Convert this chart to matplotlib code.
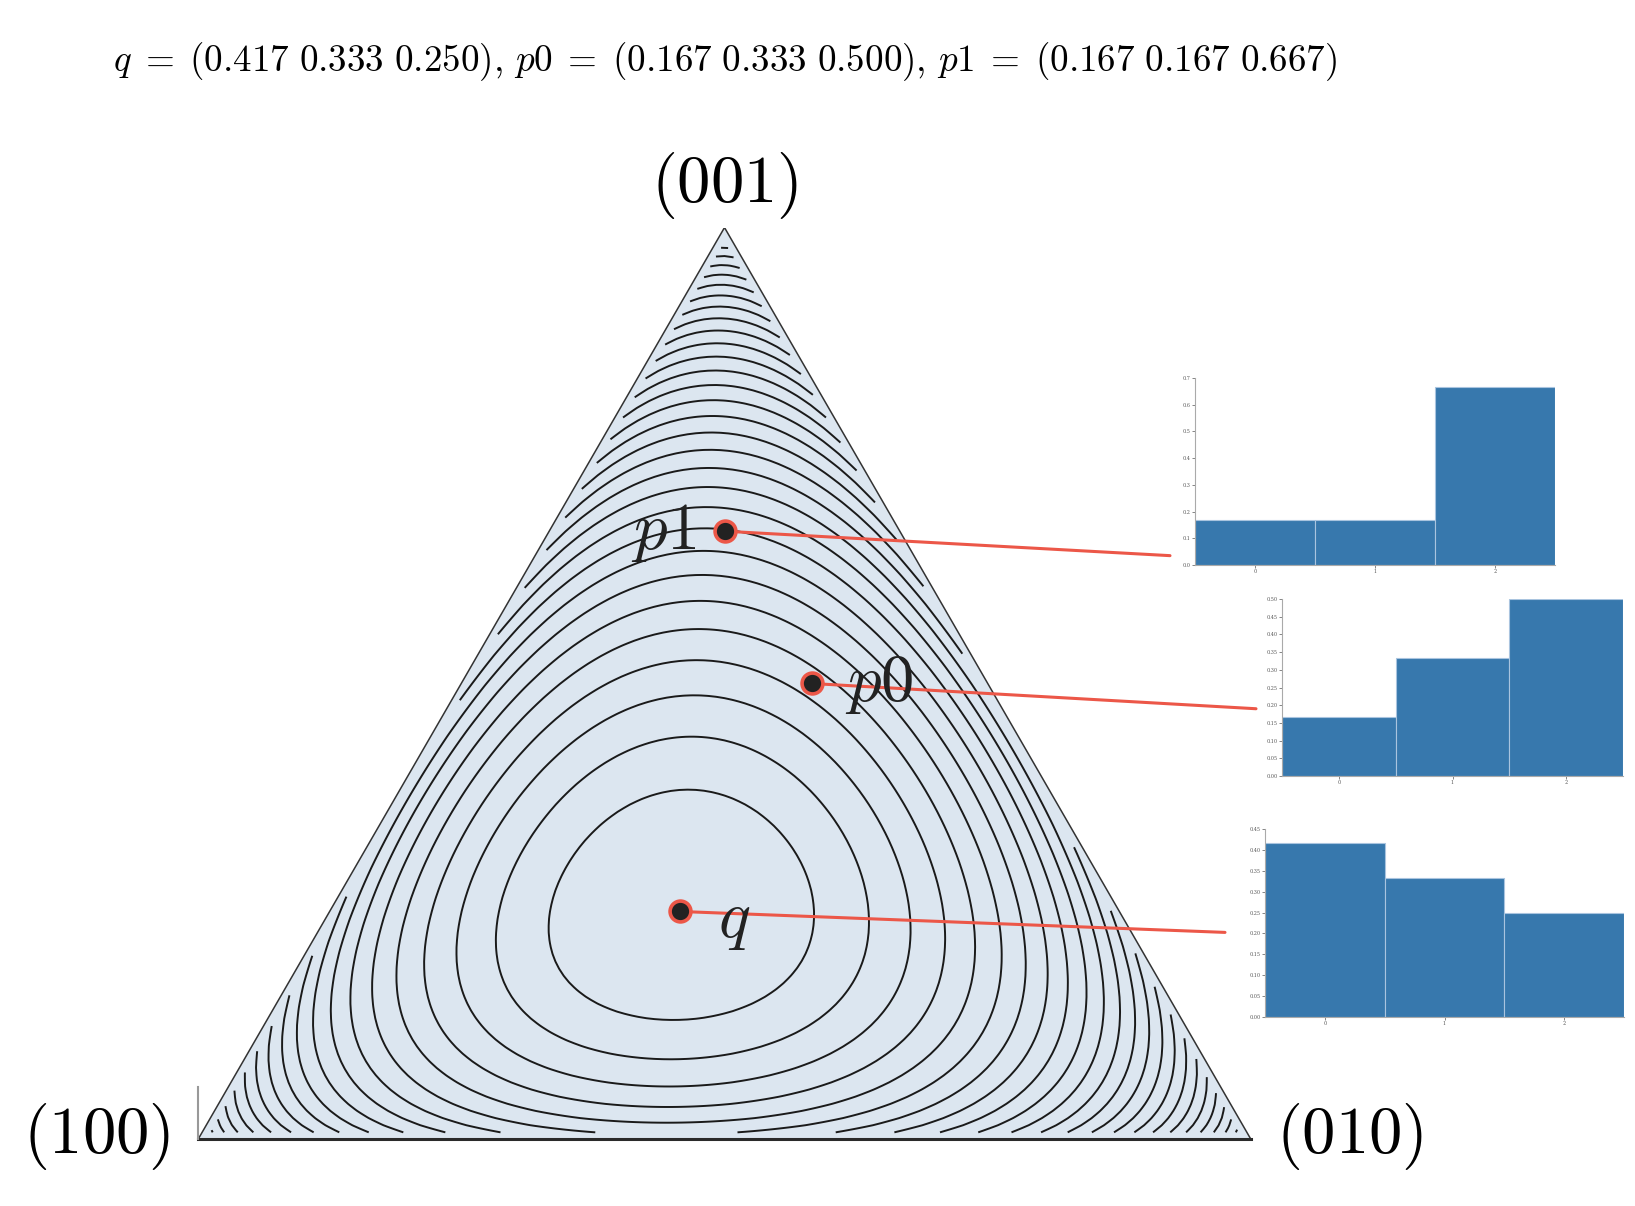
import numpy as np
import matplotlib
matplotlib.use('Agg')
import matplotlib.pyplot as plt
import matplotlib.tri as mtri
from matplotlib.patches import Polygon, ConnectionPatch

plt.rcParams['mathtext.fontset'] = 'cm'
plt.rcParams['font.family'] = ['DejaVu Serif']

# 分布数据
q = np.array([0.417, 0.333, 0.250])
p0 = np.array([0.167, 0.333, 0.500])
p1 = np.array([0.167, 0.167, 0.667])
names = ['q', 'p0', 'p1']
corner_labels = ['(100)', '(010)', '(001)']
bar_x = [0, 1, 2]
n_levels = 32

# 单纯形顶点
corners = np.array([[0, 0], [1, 0], [0.5, np.sqrt(3) / 2]])


def bary_to_xy(p):
    return p @ corners


def xy_to_bary(xy):
    # 求重心坐标
    T = np.array([[corners[0, 0] - corners[2, 0], corners[1, 0] - corners[2, 0]],
                  [corners[0, 1] - corners[2, 1], corners[1, 1] - corners[2, 1]]])
    l12 = np.linalg.solve(T, (xy - corners[2]).T).T
    l3 = 1 - l12.sum(axis = 1)
    return np.column_stack([l12, l3])


def kl(p, q):
    p = np.clip(p, 1e-12, 1)
    return np.sum(p * np.log(p / q), axis = 1)


fig = plt.figure(figsize = (16.35, 12.06), dpi = 100)
W, H = 1635, 1206
ax = fig.add_axes([198 / W, 66 / H, 1053 / W, 913 / H])
ax.set_xlim(0, 1)
ax.set_ylim(0, np.sqrt(3) / 2)
ax.set_aspect('equal')
ax.axis('off')

# 三角形底色
ax.add_patch(Polygon(corners, closed = True, facecolor = '#dce6f0', edgecolor = '#333333', lw = 1.1, zorder = 0))

# KL(p||q) 等高线
tri = mtri.Triangulation(corners[:, 0], corners[:, 1])
refiner = mtri.UniformTriRefiner(tri)
fine = refiner.refine_triangulation(subdiv = 7)
bc = xy_to_bary(np.column_stack([fine.x, fine.y]))
z = kl(bc, q)
on_edge = np.any(bc < 1e-6, axis = 1)
fine.set_mask(np.any(on_edge[fine.triangles], axis = 1))
levels = np.linspace(0, np.log(1 / q.min()), n_levels + 1)[1:]
ax.tricontour(fine, z, levels = levels, colors = '#1a1a1a', linewidths = 1.4, zorder = 1)

# 底边和左侧短线
ax.plot([0, 1], [0, 0], color = '#2a2a2a', lw = 2.2, zorder = 2, clip_on = False)
ax.plot([0, 0], [0, 52 / 1053], color = '#999999', lw = 1.5, zorder = 2, clip_on = False)

# 顶点标签
tsize = 48
ax.text(0.5, np.sqrt(3) / 2 + 42 / 1053, r'$\mathrm{' + corner_labels[2] + '}$', ha = 'center', va = 'center', fontsize = tsize)
ax.text(-101 / 1053, 3 / 1053, r'$\mathrm{' + corner_labels[0] + '}$', ha = 'center', va = 'center', fontsize = tsize)
ax.text(1 + 99 / 1053, 3 / 1053, r'$\mathrm{' + corner_labels[1] + '}$', ha = 'center', va = 'center', fontsize = tsize)

# 标题
title = (r'$q\;=\;(0.417\ 0.333\ 0.250),\, p0\;=\;(0.167\ 0.333\ 0.500),'
         r'\, p1\;=\;(0.167\ 0.167\ 0.667)$')
fig.text(113 / W, 1 - 62 / H, title, ha = 'left', va = 'center', fontsize = 26.7)

# 小柱状图
dists = {'q': q, 'p0': p0, 'p1': p1}
inset_rect = {
    'p1': [1195 / W, (H - 565) / H, 360 / W, 187 / H],
    'p0': [1282 / W, (H - 776) / H, 341 / W, 177 / H],
    'q':  [1265 / W, (H - 1017) / H, 359 / W, 188 / H],
    }
yticks = {
    'p1': (np.arange(0, 0.71, 0.1), '{:.1f}'),
    'p0': (np.arange(0, 0.501, 0.05), '{:.2f}'),
    'q':  (np.arange(0, 0.451, 0.05), '{:.2f}'),
    }
line_end = {'p1': (-25 / 360, 0.05), 'p0': (-26 / 341, 0.38), 'q': (-40 / 359, 0.45)}
label_off = {'p1': (-28, 0, 'right'), 'p0': (33, 0, 'left'), 'q': (38, -8, 'left')}
red = '#ec5748'

for name in names:
    d = dists[name]
    iax = fig.add_axes(inset_rect[name])
    iax.bar(bar_x, d, width = 1.0, color = '#3778ad', edgecolor = '#a9c4df', linewidth = 0.8)
    iax.set_xlim(-0.5, 2.5)
    ticks, fmt = yticks[name]
    iax.set_ylim(0, ticks[-1])
    iax.set_yticks(ticks)
    iax.set_yticklabels([fmt.format(t) for t in ticks])
    iax.set_xticks(bar_x)
    iax.tick_params(labelsize = 3.5, length = 2, width = 0.5, colors = '#555555', pad = 1)
    for s in ['top', 'right']:
        iax.spines[s].set_visible(False)
    for s in ['left', 'bottom']:
        iax.spines[s].set_color('#aaaaaa')
        iax.spines[s].set_linewidth(0.8)

    xy = bary_to_xy(d)
    con = ConnectionPatch(xyA = xy, coordsA = ax.transData, xyB = line_end[name], coordsB = iax.transAxes,
                          color = red, lw = 2.2, zorder = 5, clip_on = False)
    ax.add_artist(con)
    ax.plot(xy[0], xy[1], 'o', ms = 15, mfc = '#222222', mec = red, mew = 2.6, zorder = 6, clip_on = False)
    dx, dy, ha = label_off[name]
    ax.annotate(r'$' + name + '$', xy = xy, xytext = (dx, dy), textcoords = 'offset pixels',
                ha = ha, va = 'center', fontsize = 48, color = '#222222', zorder = 7)

fig.savefig('out.png', dpi = 100)
